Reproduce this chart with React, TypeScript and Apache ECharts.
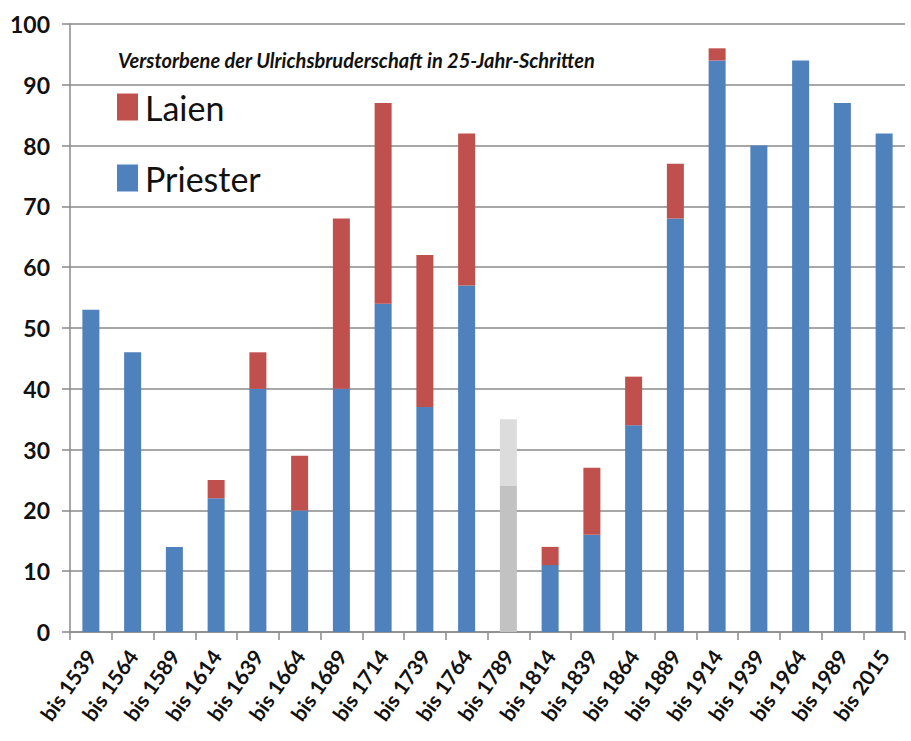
import React, { useEffect, useRef } from "react";
import * as echarts from "echarts";

const categories = ["bis 1539","bis 1564","bis 1589","bis 1614","bis 1639","bis 1664","bis 1689","bis 1714","bis 1739","bis 1764","bis 1789","bis 1814","bis 1839","bis 1864","bis 1889","bis 1914","bis 1939","bis 1964","bis 1989","bis 2015"];
const priester = [53, 46, 14, 22, 40, 20, 40, 54, 37, 57, 24, 11, 16, 34, 68, 94, 80, 94, 87, 82];
const laien = [0, 0, 0, 3, 6, 9, 28, 33, 25, 25, 11, 3, 11, 8, 9, 2, 0, 0, 0, 0];
const uncertainCategory = "bis 1789";
const yTicks = { min: 0, max: 100, interval: 10 };

const FONT = "Lato, 'Open Sans', sans-serif";

export default function App() {
  const ref = useRef<HTMLDivElement>(null);
  useEffect(() => {
    if (!ref.current) return;
    const chart = echarts.init(ref.current, null, { renderer: "svg" });
    const pData = priester.map((v, i) =>
      categories[i] === uncertainCategory ? { value: v, itemStyle: { color: "#c2c2c2" } } : v
    );
    const lData = laien.map((v, i) =>
      categories[i] === uncertainCategory ? { value: v, itemStyle: { color: "#dcdcdc" } } : v
    );
    chart.setOption({
      animation: false,
      backgroundColor: "#ffffff",
      title: {
        text: "Verstorbene der Ulrichsbruderschaft in 25-Jahr-Schritten",
        left: 113,
        top: 45,
        textStyle: { fontFamily: FONT, fontSize: 20, fontStyle: "italic", fontWeight: "bold", color: "#111" },
      },
      legend: {
        data: ["Laien", "Priester"],
        orient: "vertical",
        left: 112,
        top: 85,
        itemWidth: 21,
        itemHeight: 27,
        itemGap: 37,
        icon: "rect",
        textStyle: { fontFamily: FONT, fontSize: 34, color: "#111", padding: [0, 0, 0, 2] },
      },
      grid: { left: 70, right: 6, top: 24, bottom: 109, containLabel: false },
      xAxis: {
        type: "category",
        data: categories,
        axisLine: { lineStyle: { color: "#8a8a8a", width: 1.5 } },
        axisTick: { show: true, length: 8, lineStyle: { color: "#8a8a8a", width: 1.5 } },
        axisLabel: { rotate: 55, interval: 0, fontFamily: FONT, fontSize: 21, fontWeight: "bold", color: "#111", margin: 20 },
      },
      yAxis: {
        type: "value",
        min: yTicks.min,
        max: yTicks.max,
        interval: yTicks.interval,
        axisLine: { show: true, lineStyle: { color: "#8a8a8a", width: 1.5 } },
        axisTick: { show: true, length: 8, lineStyle: { color: "#8a8a8a", width: 1.5 } },
        axisLabel: { fontFamily: FONT, fontSize: 23, fontWeight: "bold", color: "#111", margin: 20 },
        splitLine: { lineStyle: { color: "#8a8a8a", width: 1.5 } },
      },
      series: [
        {
          name: "Priester",
          type: "bar",
          stack: "total",
          barWidth: 17,
          data: pData,
          itemStyle: { color: "#4f81bd" },
        },
        {
          name: "Laien",
          type: "bar",
          stack: "total",
          barWidth: 17,
          data: lData,
          itemStyle: { color: "#c0504d" },
        },
      ],
    });
    return () => chart.dispose();
  }, []);
  return <div ref={ref} style={{ width: 911, height: 741, position: "absolute", left: 0, top: 0 }} />;
}
